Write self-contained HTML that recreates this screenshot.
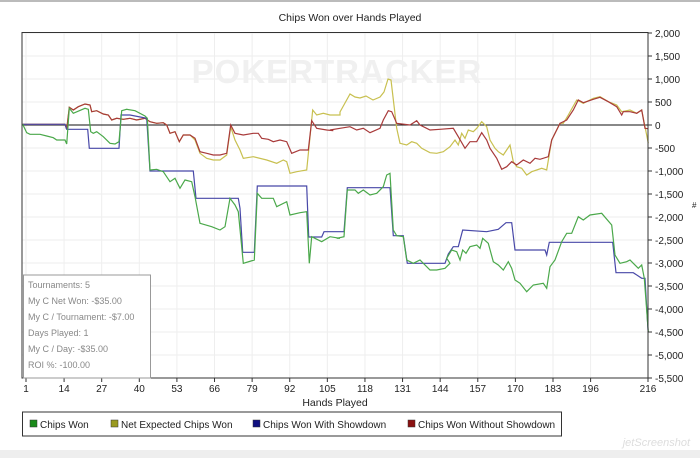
<!DOCTYPE html>
<html><head><meta charset="utf-8"><style>
body{margin:0;width:700px;height:458px;background:#fff;overflow:hidden;font-family:"Liberation Sans",sans-serif;}
</style></head><body>
<svg id="s" width="700" height="458" xmlns="http://www.w3.org/2000/svg" font-family="Liberation Sans, sans-serif">
<rect x="0" y="0" width="700" height="2" fill="#bbb"/>
<rect x="0" y="450" width="700" height="8" fill="#eee"/>
<text x="350" y="21" font-size="10.5" text-anchor="middle" fill="#222">Chips Won over Hands Played</text>
<g id="grid" stroke="#eee" stroke-width="1"></g>
<text x="337" y="83" font-size="33" font-weight="bold" text-anchor="middle" fill="#f0f0f0" letter-spacing="1">POKERTRACKER</text>
<line x1="22" y1="125" x2="648" y2="125" stroke="#111" stroke-width="1"/>
<g id="lines" fill="none" stroke-width="1.2"></g>
<rect x="22" y="32.5" width="626" height="345.5" fill="none" stroke="#333" stroke-width="1"/>
<g id="lbl" font-size="10" fill="#222"></g>
<text x="692" y="208" font-size="8" fill="#222">#</text>
<text x="335" y="406" font-size="10.5" text-anchor="middle" fill="#222">Hands Played</text>
<rect x="23.5" y="275" width="127" height="103" fill="#fff" stroke="#999"/>
<g font-size="9" fill="#888">
<text x="28" y="288">Tournaments: 5</text>
<text x="28" y="304">My C Net Won: -$35.00</text>
<text x="28" y="320">My C / Tournament: -$7.00</text>
<text x="28" y="336">Days Played: 1</text>
<text x="28" y="352">My C / Day: -$35.00</text>
<text x="28" y="368">ROI %: -100.00</text>
</g>
<rect x="22.5" y="412" width="539" height="24" fill="#fff" stroke="#333"/>
<g font-size="10" fill="#222">
<rect x="30" y="420" width="7" height="7" fill="#1a8a1a" stroke="#333" stroke-width="0.5"/><text x="40" y="428">Chips Won</text>
<rect x="111" y="420" width="7" height="7" fill="#9a9a20" stroke="#333" stroke-width="0.5"/><text x="121" y="428">Net Expected Chips Won</text>
<rect x="253" y="420" width="7" height="7" fill="#101080" stroke="#333" stroke-width="0.5"/><text x="263" y="428">Chips Won With Showdown</text>
<rect x="408" y="420" width="7" height="7" fill="#8a1010" stroke="#333" stroke-width="0.5"/><text x="418" y="428">Chips Won Without Showdown</text>
</g>
<text x="690" y="446" font-size="11" font-style="italic" text-anchor="end" fill="#ddd">jetScreenshot</text>
</svg>
<script>
var NS="http://www.w3.org/2000/svg",g=document.getElementById('grid'),l=document.getElementById('lbl'),L=document.getElementById('lines');
function el(p,t,a,txt){var e=document.createElementNS(NS,t);for(var k in a)e.setAttribute(k,a[k]);if(txt!=null)e.textContent=txt;p.appendChild(e);return e;}
var hx=function(h){return 139.3+(h-40)*2.893;};
[1,14,27,40,53,66,79,92,105,118,131,144,157,170,183,196,216].forEach(function(h){var x=hx(h);if(h==216)x=648;if(h==1)x=26;
 el(g,'line',{x1:x,y1:33,x2:x,y2:378});el(l,'line',{x1:x,y1:378,x2:x,y2:382,stroke:'#333'});
 el(l,'text',{x:x,y:392,'text-anchor':'middle'},String(h));});
for(var v=2000;v>=-5500;v-=500){var y=125-v*0.046;el(g,'line',{x1:22,y1:y,x2:648,y2:y});
 el(l,'line',{x1:648,y1:y,x2:652,y2:y,stroke:'#333'});
 el(l,'text',{x:655,y:y+4},v.toLocaleString('en-US'));}
function conv(a,ox,oy){var r=[];for(var i=0;i<a.length;i+=2)r.push([ox+a[i]/3,oy+a[i+1]/3]);return r;}
function draw(pts,c){el(L,'polyline',{points:pts.map(function(p){return p[0].toFixed(1)+','+p[1].toFixed(1)}).join(' '),stroke:c});}
var red=conv([8,103,135,103,140,118,148,52,160,60,175,50,195,42,210,45,215,65,230,62,250,72,265,75,275,90,290,85,310,88,330,85,350,90,375,85,390,95,410,100,430,98,440,105,450,130,465,125,478,155,490,135,510,135,525,145,540,185,560,190,580,195,600,195,620,190,632,105,645,130,670,135,700,130,715,130,725,145,745,148,760,155,780,150,800,155,815,190,840,180,865,180,875,92,890,115,920,120,940,122],20,90)
 .concat(conv([0,120,30,115,60,110,80,120,100,115,120,128,150,115,160,90,175,62,185,65,200,100,240,105,260,92,270,105,300,120,330,118,370,115,385,140,405,175,420,155,440,155,455,128,470,150,480,175,500,205,515,238,530,230,545,215,560,225,580,210,600,220,615,205,630,208,655,200,665,150,690,100,710,90,730,60,745,30,760,38,790,28,810,22,835,35,860,50,875,75,880,65,900,65,920,70,935,60,945,115,954,116],330,90));
var yel=conv([8,103,135,103,140,118,148,52,160,60,175,50,195,42,210,45,215,65,230,62,250,72,265,75,275,90,290,85,310,88,330,85,350,90,375,85,390,95,410,100,430,98,440,105,450,130,465,125,478,155,490,135,510,135,525,150,540,190,560,205,580,210,600,210,620,195,632,110,645,150,660,180,670,205,700,200,740,210,770,220,790,210,800,215,810,250,830,245,860,240,878,60,890,75,910,70,930,75,960,75],20,90)
 .concat([[340,112],[345,103],[350,94],[355,97],[360,98],[366,96],[373,100],[380,97],[384,92],[388,79],[391,80]])
 .concat(conv([200,115,210,160,230,165,245,155,260,160,275,175,300,188,320,190,340,185,360,170,375,150,385,165,395,130,405,145,415,120,430,125,440,115,455,95,470,110,480,150,495,175,505,185,520,195,540,165,550,215,560,230,575,235,590,255,605,245,620,240,635,235,650,240,665,150,690,100,700,100,715,75,740,30,760,40,790,25,810,20,835,35,860,45,875,65,900,60,920,70,935,60,945,110,955,160],330,90));
var grn=conv([8,103,20,128,30,133,60,133,80,138,100,143,110,150,135,150,140,162,148,55,160,70,195,55,205,58,212,125,220,130,230,125,250,140,270,160,285,162,297,155,305,62,320,58,345,62,375,78,382,85,390,240,410,238,430,245,450,275,465,265,480,295,495,270,515,275,525,320,540,400,575,410,600,420,615,410,630,325,645,345,655,365,670,520,703,510,712,310,725,325,760,325,770,350,800,335,810,375,840,368,860,365,868,520,875,440,905,455,930,440,960,445],20,90)
 .concat(conv([20,445,42,440,52,300,75,300,85,310,100,300,120,315,140,310,160,290,170,255,180,250,190,420,200,437,220,440,230,510,250,520,270,510,300,540,320,540,345,535,360,520],330,90))
 .concat(conv([200,235,215,210,230,215,240,240,248,210,258,220,270,200,290,195,300,205,308,175,325,190,340,245,355,255,370,270,385,245,395,265,405,300,420,310,440,335,460,315,490,310,500,325,510,260,525,240,545,185,560,160,575,160,595,110,610,120,630,105,665,100,695,135,705,225,720,250,740,245,750,240,760,250,775,265,785,255,793,295,805,455],380,180));
var blu=conv([8,103,135,103,140,118,203,118,208,175,297,175,303,75,330,75,380,85,390,243,520,243,528,325,655,325,660,355,668,487,703,487,712,288,860,288,866,441,905,441,912,425,960,425],20,90)
 .concat(conv([42,425,52,293,180,293,190,437,220,437,232,520,345,520,355,492,370,470,385,470,398,420,470,425,505,418,528,398,545,398,555,480,645,480,650,495,658,457,848,457,858,548,910,548,935,565,945,565],330,90))
 .concat([[648,330]]);
draw(yel,'#c8c050');draw(red,'#a83a3a');draw(blu,'#4848a8');draw(grn,'#4aa84a');
</script>
</body></html>
